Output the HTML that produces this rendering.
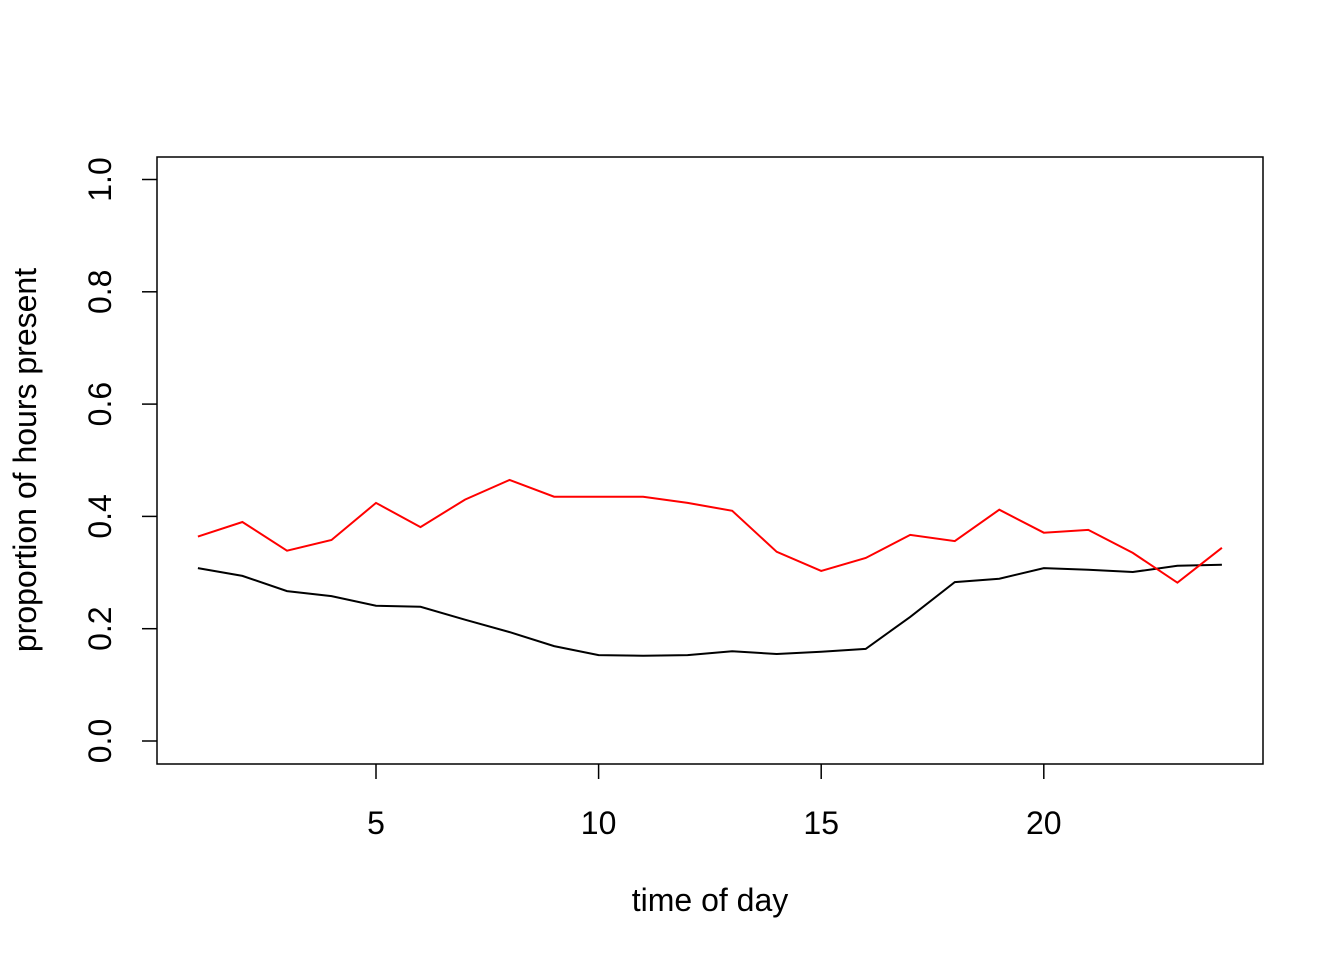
<!DOCTYPE html>
<html><head><meta charset="utf-8"><style>
html,body{margin:0;padding:0;background:#fff;}
svg text{font-family:"Liberation Sans",Arial,sans-serif;font-size:32px;fill:#000;}
</style></head><body>
<svg id="chart" width="1344" height="960" viewBox="0 0 1344 960">
<rect x="0" y="0" width="1344" height="960" fill="#fff"/>
<rect x="157" y="157" width="1106" height="607" fill="none" stroke="#000" stroke-width="1.5"/>
<g id="xaxis"></g>
<g id="yaxis"></g>
<g id="series"></g>
<text x="710" y="911" text-anchor="middle">time of day</text>
<text transform="translate(36,460) rotate(-90)" text-anchor="middle">proportion of hours present</text>
</svg>
<script>
const hours = [1,2,3,4,5,6,7,8,9,10,11,12,13,14,15,16,17,18,19,20,21,22,23,24];
const redValues = [0.364,0.390,0.339,0.358,0.424,0.381,0.430,0.465,0.435,0.435,0.435,0.424,0.410,0.337,0.303,0.326,0.367,0.356,0.412,0.371,0.376,0.335,0.282,0.344];
const blackValues = [0.308,0.294,0.267,0.258,0.241,0.239,0.216,0.194,0.169,0.153,0.152,0.153,0.160,0.155,0.159,0.164,0.221,0.283,0.289,0.308,0.305,0.301,0.312,0.314];
const xTicks = [5,10,15,20];
const yTicks = [0.0,0.2,0.4,0.6,0.8,1.0];
const yTickLabels = ["0.0","0.2","0.4","0.6","0.8","1.0"];

const NS = "http://www.w3.org/2000/svg";
function xs(v){ return 376 + (v-5)*44.52; }
function ys(v){ return 741 - v*561.5; }
function mk(tag, attrs, parent){
  const e = document.createElementNS(NS, tag);
  for (const k in attrs) e.setAttribute(k, attrs[k]);
  parent.appendChild(e); return e;
}
const xa = document.getElementById('xaxis');
xTicks.forEach(t=>{
  const l = mk('line',{x1:xs(t),x2:xs(t),y1:764,y2:779,stroke:'#000','stroke-width':1.5},xa);
  
  
  const tx = mk('text',{x:xs(t),y:834,'text-anchor':'middle'},xa);
  tx.textContent = t;
  
  
});
const ya = document.getElementById('yaxis');
yTicks.forEach((t,i)=>{
  const l = mk('line',{x1:142,x2:157,y1:ys(t),y2:ys(t),stroke:'#000','stroke-width':1.5},ya);
  
  
  const tx = mk('text',{transform:`translate(111,${ys(t)}) rotate(-90)`,'text-anchor':'middle'},ya);
  tx.textContent = yTickLabels[i];
  
  
});
const sg = document.getElementById('series');
function line(vals,color,name){
  const pts = vals.map((v,i)=>xs(hours[i]).toFixed(1)+','+ys(v).toFixed(1)).join(' ');
  const p = mk('polyline',{points:pts,fill:'none',stroke:color,'stroke-width':2},sg);
  
  
}
line(blackValues,'#000','black-series-line');
line(redValues,'#ff0000','red-series-line');
</script>
</body></html>
